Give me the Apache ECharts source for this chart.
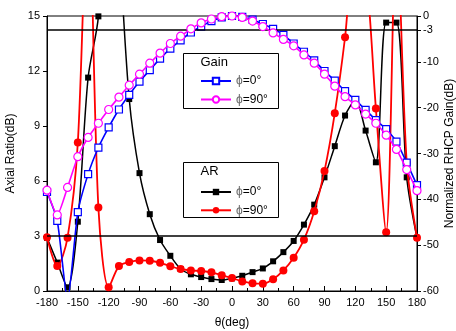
<!DOCTYPE html>
<html>
<head>
<meta charset="utf-8">
<script src="https://cdn.jsdelivr.net/npm/echarts@6/dist/echarts.min.js"></script>
<style>
  html, body { margin: 0; padding: 0; background: #fff; }
  #chart { width: 456px; height: 331px; }
</style>
</head>
<body>
<div id="chart"></div>
<script>
// theta in degrees
const theta = [-180, -170, -160, -150, -140, -130, -120, -110, -100, -90, -80, -70, -60, -50, -40, -30, -20, -10,
  0, 10, 20, 30, 40, 50, 60, 70, 80, 90, 100, 110, 120, 130, 140, 150, 160, 170, 180];

// axial ratio (dB), left axis
const arPhi0 = [2.9, 1.55, 0.2, 3.78, 11.64, 14.98, 26, 19, 10.47, 6.43, 4.19, 2.78, 1.92, 1.2, 0.91, 0.76, 0.65, 0.6,
  0.69, 0.83, 1.03, 1.23, 1.62, 2.12, 2.73, 3.62, 4.71, 6.2, 7.9, 9.57, 10.4, 8.75, 7.02, 14.64, 14.64, 6.2, 2.9];
const arPhi90 = [2.93, 1.36, 2.91, 8.1, 22, 4.55, 0.2, 1.36, 1.58, 1.67, 1.65, 1.54, 1.35, 1.2, 1.12, 1.09, 1.02, 0.86,
  0.71, 0.52, 0.42, 0.4, 0.64, 1.12, 1.81, 2.8, 4.35, 6.55, 9.7, 13.84, 19, 17.5, 9.95, 3.2, 20, 7.0, 2.9];

// normalized RHCP gain (dB), right axis
const gainPhi0 = [-38.4, -44.7, -62, -42.8, -34.5, -28.7, -24.3, -20.4, -17.2, -14.3, -11.8, -9.3, -7.1, -5.3, -3.6, -2.3, -1.1, -0.3,
  0, -0.2, -0.8, -1.75, -2.8, -4.1, -6.0, -7.8, -9.7, -12.0, -14.1, -16.4, -18.3, -20.5, -22.7, -24.7, -27.4, -32.0, -36.9];
const gainPhi90 = [-38.0, -43.4, -37.4, -30.7, -26.5, -23.4, -20.4, -17.7, -15.1, -12.7, -10.3, -8.1, -6.0, -4.4, -2.8, -1.5, -0.65, -0.15,
  0, -0.3, -1.1, -2.3, -3.7, -5.1, -6.5, -8.5, -10.3, -12.7, -15.3, -17.6, -19.4, -21.4, -23.4, -26.0, -29.1, -33.5, -38.1];

const gainTicks = [0, -3, -10, -20, -30, -40, -50, -60];
const arLimit = 3;
const gainLimit = -3;

const FONT = '"Liberation Sans", Arial, sans-serif';

function pairs(ys) {
  return theta.map((t, i) => [t, ys[i]]);
}

function legendText(name) {
  const ang = name.split('=')[1];
  return '{g|ϕ}{t|=' + ang + '}';
}

const limitLine = (axisVal) => ({
  silent: true,
  symbol: 'none',
  label: {show: false},
  lineStyle: {color: '#000', width: 1.6, type: 'solid'},
  data: [{yAxis: axisVal}]
});

const chart = echarts.init(document.getElementById('chart'), null, {renderer: 'canvas'});

const legendRich = {
  g: {color: '#666', fontSize: 12, fontFamily: FONT},
  t: {color: '#000', fontSize: 12, fontFamily: FONT}
};

chart.setOption({
  animation: false,
  backgroundColor: '#fff',
  textStyle: {fontFamily: FONT},
  grid: {
    left: 47, right: 39, top: 16, bottom: 40,
    outerBoundsMode: 'none',
    containLabel: false,
    show: true, borderColor: '#000', borderWidth: 1
  },
  legend: [
    {
      data: ['Gain ϕ=0°', 'Gain ϕ=90°'],
      orient: 'vertical',
      left: 200, top: 74,
      padding: 0,
      itemWidth: 30, itemHeight: 8, itemGap: 4.5,
      formatter: legendText,
      textStyle: {rich: legendRich, lineHeight: 14},
      selectedMode: false,
      z: 10
    },
    {
      data: ['AR ϕ=0°', 'AR ϕ=90°'],
      orient: 'vertical',
      left: 200, top: 185,
      padding: 0,
      itemWidth: 30, itemHeight: 8, itemGap: 4.3,
      formatter: legendText,
      textStyle: {rich: legendRich, lineHeight: 14},
      selectedMode: false,
      z: 10
    }
  ],
  graphic: [
    {type: 'rect', shape: {x: 183.5, y: 53.5, width: 95, height: 55}, style: {fill: '#fff', stroke: '#000', lineWidth: 1}, z: 8},
    {type: 'text', x: 200.5, y: 56, style: {text: 'Gain', font: '13px ' + FONT, fill: '#000'}, z: 9},
    {type: 'rect', shape: {x: 183.5, y: 162.5, width: 95, height: 55}, style: {fill: '#fff', stroke: '#000', lineWidth: 1}, z: 8},
    {type: 'text', x: 200.5, y: 165, style: {text: 'AR', font: '13px ' + FONT, fill: '#000'}, z: 9}
  ],
  xAxis: {
    type: 'value',
    min: -180, max: 180, interval: 30,
    name: 'θ(deg)',
    nameLocation: 'middle',
    nameGap: 26,
    nameTextStyle: {fontSize: 12, color: '#000', fontFamily: FONT},
    axisLine: {onZero: false, lineStyle: {color: '#000', width: 1}},
    axisTick: {inside: true, length: 5, lineStyle: {color: '#000'}},
    minorTick: {show: true, splitNumber: 2, length: 3, lineStyle: {color: '#000'}},
    axisLabel: {color: '#000', fontSize: 11, margin: 6},
    splitLine: {show: false}
  },
  yAxis: [
    {
      type: 'value',
      min: 0, max: 15, interval: 3,
      position: 'left',
      name: 'Axial Ratio(dB)',
      nameLocation: 'middle',
      nameGap: 26,
      nameTextStyle: {fontSize: 12, color: '#000', fontFamily: FONT},
      axisLine: {show: true, onZero: false, lineStyle: {color: '#000', width: 1}},
      axisTick: {show: true, length: 4, lineStyle: {color: '#000'}},
      axisLabel: {color: '#000', fontSize: 11, margin: 7},
      splitLine: {show: false}
    },
    {
      type: 'value',
      min: -60, max: 0, interval: 10,
      position: 'right',
      name: 'Normalized RHCP Gain(dB)',
      nameLocation: 'middle',
      nameGap: 27,
      nameRotate: 90,
      nameMoveOverlap: false,
      nameTextStyle: {fontSize: 12, color: '#000', fontFamily: FONT},
      axisLine: {show: true, onZero: false, lineStyle: {color: '#000', width: 1}},
      axisTick: {show: true, length: 4, customValues: gainTicks, lineStyle: {color: '#000'}},
      axisLabel: {color: '#000', fontSize: 11, margin: 6, customValues: gainTicks},
      splitLine: {show: false}
    }
  ],
  series: [
    {
      name: 'AR ϕ=0°',
      type: 'line',
      yAxisIndex: 0,
      data: pairs(arPhi0),
      smooth: 0.3,
      symbol: 'rect', symbolSize: 6,
      color: '#000',
      itemStyle: {color: '#000'},
      lineStyle: {color: '#000', width: 1.5},
      markLine: limitLine(arLimit),
      z: 2
    },
    {
      name: 'AR ϕ=90°',
      type: 'line',
      yAxisIndex: 0,
      data: pairs(arPhi90),
      smooth: 0.3,
      symbol: 'circle', symbolSize: 8,
      color: '#ff0000',
      itemStyle: {color: '#ff0000'},
      lineStyle: {color: '#ff0000', width: 1.8},
      z: 3
    },
    {
      name: 'Gain ϕ=0°',
      type: 'line',
      yAxisIndex: 1,
      data: pairs(gainPhi0),
      smooth: 0.2,
      symbol: 'rect', symbolSize: 7,
      color: '#0000ff',
      itemStyle: {color: '#fff', borderColor: '#0000ff', borderWidth: 1.2},
      lineStyle: {color: '#0000ff', width: 1.6},
      markLine: limitLine(gainLimit),
      z: 4
    },
    {
      name: 'Gain ϕ=90°',
      type: 'line',
      yAxisIndex: 1,
      data: pairs(gainPhi90),
      smooth: 0.2,
      symbol: 'circle', symbolSize: 8,
      color: '#ff00ff',
      itemStyle: {color: '#fff', borderColor: '#ff00ff', borderWidth: 1.2},
      lineStyle: {color: '#ff00ff', width: 1.6},
      z: 5
    }
  ]
});
</script>
</body>
</html>
